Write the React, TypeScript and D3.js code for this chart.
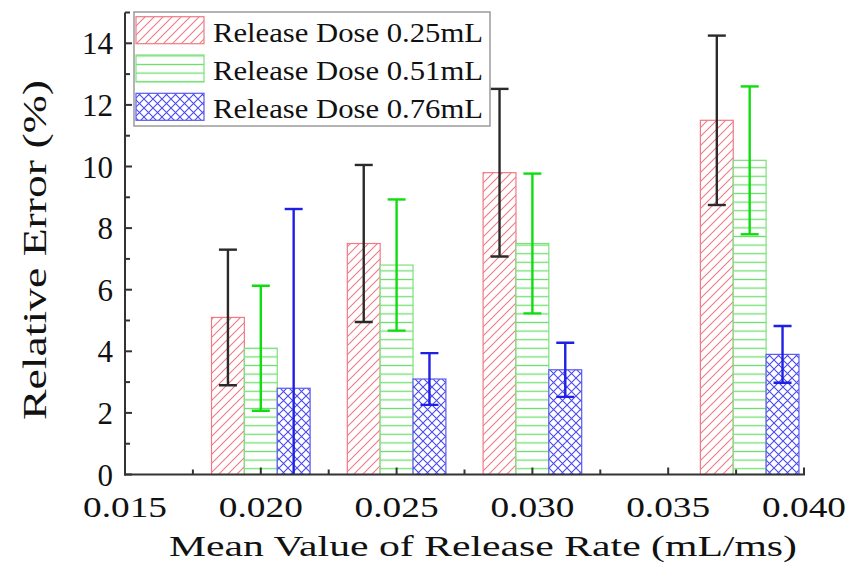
import React from 'react';
import * as d3 from 'd3';

// ---- data ----
const categories = [0.02, 0.025, 0.03, 0.038];
const seriesNames = ['Release Dose 0.25mL', 'Release Dose 0.51mL', 'Release Dose 0.76mL'];
const dose025 = [5.1, 7.5, 9.8, 11.5];
const dose025Err = [2.2, 2.55, 2.72, 2.75];
const dose051 = [4.1, 6.8, 7.5, 10.2];
const dose051Err = [2.03, 2.13, 2.27, 2.4];
const dose076 = [2.8, 3.1, 3.4, 3.9];
const dose076Err = [5.82, 0.84, 0.88, 0.92];
const xTickValues = [0.015, 0.02, 0.025, 0.03, 0.035, 0.04];
const xMinorValues = [0.0175, 0.0225, 0.0275, 0.0325, 0.0375];
const yTickValues = [0, 2, 4, 6, 8, 10, 12, 14];
const yMinorValues = [1, 3, 5, 7, 9, 11, 13, 15];
const xLabel = 'Mean Value of Release Rate (mL/ms)';
const yLabel = 'Relative Error (%)';

const W = 861;
const H = 565;
const FONT = "'Liberation Serif', 'Times New Roman', Tinos, 'Nimbus Roman', Times, serif";

const seriesValues = [dose025, dose051, dose076];
const seriesErrors = [dose025Err, dose051Err, dose076Err];
const patternIds = ['pat-diag', 'pat-horiz', 'pat-cross'];
const strokeColors = ['#f07a86', '#7de07d', '#5a5af0'];
const errColors = ['#2a2a2a', '#10dd10', '#1f1fe6'];

export default function App() {
  const x = d3.scaleLinear().domain([0.015, 0.04]).range([125, 804]);
  const y = d3.scaleLinear().domain([0, 15]).range([474.5, 12.5]);
  const barW = 0.00121; // data units
  const x0 = x.range()[0];
  const yBase = y(0);

  return (
    <svg
      width={W}
      height={H}
      style={{ position: 'absolute', left: 0, top: 0, background: '#fff', fontFamily: FONT }}
    >
      <defs>
        <pattern id="pat-diag" patternUnits="userSpaceOnUse" width="9" height="9">
          <rect width="9" height="9" fill="#fff" />
          <path d="M-1,10 L10,-1 M-2,2 L2,-2 M7,11 L11,7" stroke="#f07a86" strokeWidth="1.1" />
        </pattern>
        <pattern id="pat-horiz" patternUnits="userSpaceOnUse" width="9" height="8.6">
          <rect width="9" height="8.6" fill="#fff" />
          <path d="M0,4.3 L9,4.3" stroke="#6fe06f" strokeWidth="1.3" />
        </pattern>
        <pattern id="pat-cross" patternUnits="userSpaceOnUse" width="9" height="9">
          <rect width="9" height="9" fill="#fff" />
          <path d="M0,0 L9,9 M9,0 L0,9" stroke="#4a4af0" strokeWidth="1.1" />
        </pattern>
        <clipPath id="plotClip">
          <rect x={x0} y={0} width={W - x0} height={yBase} />
        </clipPath>
      </defs>

      {/* bars */}
      {seriesValues.map((vals, s) =>
        vals.map((v, i) => {
          const cx = categories[i] + (s - 1) * barW;
          const left = x(cx - barW / 2);
          const right = x(cx + barW / 2);
          return (
            <rect
              key={`b${s}-${i}`}
              x={left}
              y={y(v)}
              width={right - left}
              height={yBase - y(v)}
              fill={`url(#${patternIds[s]})`}
              stroke={strokeColors[s]}
              strokeWidth={1.2}
            />
          );
        })
      )}

      {/* error bars */}
      <g clipPath="url(#plotClip)">
        {seriesValues.map((vals, s) =>
          vals.map((v, i) => {
            const cx = x(categories[i] + (s - 1) * barW);
            const e = seriesErrors[s][i];
            const yt = y(v + e);
            const yb = y(v - e);
            return (
              <g key={`e${s}-${i}`} stroke={errColors[s]} strokeWidth={2.4}>
                <line x1={cx} x2={cx} y1={yt} y2={yb} />
                <line x1={cx - 9} x2={cx + 9} y1={yt} y2={yt} />
                <line x1={cx - 9} x2={cx + 9} y1={yb} y2={yb} />
              </g>
            );
          })
        )}
      </g>

      {/* axes */}
      <g stroke="#333" strokeWidth={2} fill="none">
        <line x1={x0} x2={x0} y1={y(15)} y2={yBase + 1} />
        <line x1={x0 - 1} x2={x(0.04) + 1} y1={yBase} y2={yBase} />
        {yTickValues.map((t) => (
          <line key={`yt${t}`} x1={x0} x2={x0 + 7} y1={y(t)} y2={y(t)} />
        ))}
        {yMinorValues.map((t) => (
          <line key={`ym${t}`} x1={x0} x2={x0 + 5} y1={y(t)} y2={y(t)} />
        ))}
        {xTickValues.map((t) => (
          <line key={`xt${t}`} x1={x(t)} x2={x(t)} y1={yBase} y2={yBase - 7} />
        ))}
        {xMinorValues.map((t) => (
          <line key={`xm${t}`} x1={x(t)} x2={x(t)} y1={yBase} y2={yBase - 5} />
        ))}
      </g>

      {/* tick labels */}
      <g fill="#111" fontSize={31}>
        {yTickValues.map((t) => (
          <text key={`yl${t}`} x={113} y={y(t) + 11} textAnchor="end">
            {t}
          </text>
        ))}
      </g>
      <g fill="#111" fontSize={30}>
        {xTickValues.map((t) => (
          <text
            key={`xl${t}`}
            x={x(t) - 42}
            y={517}
            textLength={84}
            lengthAdjust="spacingAndGlyphs"
          >
            {d3.format('.3f')(t)}
          </text>
        ))}
      </g>

      {/* axis titles */}
      <text
        x={169}
        y={556}
        fontSize={30}
        fill="#111"
        textLength={628}
        lengthAdjust="spacingAndGlyphs"
      >
        {xLabel}
      </text>
      <text
        transform={`translate(46, 420) rotate(-90)`}
        x={0}
        y={0}
        fontSize={33}
        fill="#111"
        textLength={340}
        lengthAdjust="spacingAndGlyphs"
      >
        {yLabel}
      </text>

      {/* legend */}
      <rect x={134} y={12} width={356} height={114} fill="#fff" stroke="#9a9a9a" strokeWidth={1.5} />
      {seriesNames.map((name, s) => {
        const base = 41.7 + s * 38.3;
        return (
          <g key={`lg${s}`}>
            <rect
              x={136}
              y={base - 25}
              width={68}
              height={27}
              fill={`url(#${patternIds[s]})`}
              stroke={strokeColors[s]}
              strokeWidth={1.2}
            />
            <text
              x={213}
              y={base}
              fontSize={28}
              fill="#111"
              textLength={270}
              lengthAdjust="spacingAndGlyphs"
            >
              {name}
            </text>
          </g>
        );
      })}
    </svg>
  );
}
